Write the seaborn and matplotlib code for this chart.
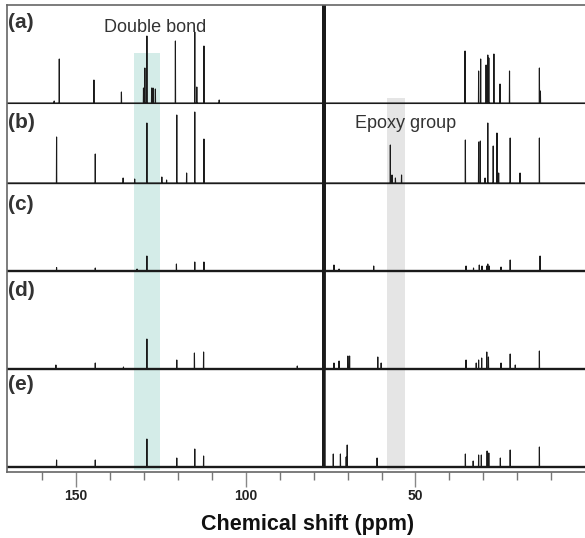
import numpy as np
import pandas as pd
import seaborn as sns
import matplotlib
matplotlib.use("Agg")
import matplotlib.pyplot as plt
from matplotlib.ticker import FixedLocator

# peak positions (ppm) and heights (arbitrary units)
a_ppm = [156.4, 154.9, 144.7, 136.6, 130.1, 129.7, 129.1, 127.7, 127.3, 126.6, 120.7, 115.0, 114.4,
         112.3, 107.8, 77.3, 77.0, 76.7, 35.4, 31.4, 30.8, 29.2, 28.7, 28.4, 26.9, 25.1, 22.3, 13.5, 13.2]
a_int = [2, 44, 23, 11, 15, 35, 67, 15, 15, 14, 62, 71, 16,
         57, 3, 88, 105, 88, 52, 32, 44, 38, 48, 45, 49, 19, 32, 35, 12]

b_ppm = [155.7, 144.3, 136.1, 132.7, 129.1, 124.7, 123.3, 120.3, 117.4, 115.0, 112.3, 77.3, 77.0, 76.7,
         57.4, 56.9, 55.9, 54.1, 35.3, 31.4, 30.9, 29.5, 28.7, 27.1, 26.0, 25.5, 22.1, 19.2, 13.5]
b_int = [46, 29, 5, 4, 60, 6, 3, 68, 10, 71, 44, 470, 480, 470,
         38, 8, 5, 8, 43, 41, 42, 5, 60, 37, 50, 10, 45, 10, 45]

c_ppm = [155.7, 144.3, 132.0, 129.1, 120.4, 115.0, 112.3, 77.3, 77.0, 76.7, 74.0, 72.5, 62.3,
         35.1, 32.9, 31.2, 30.4, 29.0, 28.7, 28.3, 24.8, 22.1, 13.3]
c_int = [3.5, 3, 2, 15, 7, 9, 9, 470, 480, 470, 6, 2, 5,
         5, 3, 6, 5, 5, 7, 5, 4, 11, 15]

d_ppm = [155.9, 144.3, 136.0, 129.1, 120.3, 115.1, 112.4, 84.8, 77.3, 77.0, 76.7, 74.0, 72.5, 69.9, 69.4,
         61.1, 60.1, 35.1, 32.1, 31.4, 30.5, 29.0, 28.5, 24.8, 22.1, 20.6, 13.5]
d_int = [4, 6, 2, 30, 9, 16, 17, 3, 470, 480, 470, 6, 8, 13, 13,
         12, 6, 9, 6, 9, 11, 17, 12, 6, 15, 4, 18]

e_ppm = [155.7, 144.3, 129.1, 120.3, 115.0, 112.4, 77.3, 77.0, 76.7, 74.2, 72.1, 70.4, 70.1,
         61.3, 35.3, 33.0, 31.4, 30.6, 28.9, 28.4, 25.0, 22.1, 13.5]
e_int = [7, 7, 28, 9, 18, 11, 470, 480, 470, 13, 13, 10, 22,
         9, 13, 6, 12, 12, 16, 14, 9, 17, 20]

labels = ["(a)", "(b)", "(c)", "(d)", "(e)"]
peaks = [(a_ppm, a_int), (b_ppm, b_int), (c_ppm, c_int), (d_ppm, d_int), (e_ppm, e_int)]
offsets = [369, 289, 201, 103, 5]
label_y = [450, 349, 267, 181, 87]
base_lw = [0.8, 1.0, 1.7, 1.7, 1.7]

x_left, x_right = 170.3, -7.0
half = 0.05

sns.set_style("white")
plt.rcParams["font.family"] = ["Liberation Sans", "DejaVu Sans"]

fig = plt.figure(figsize=(5.85, 5.38), dpi=100)
ax = fig.add_axes([7 / 585, 66 / 538, 602 / 585, 467 / 538])

# highlight bands
ax.axvspan(125.3, 132.9, ymin=2 / 467, ymax=419 / 467, color="#d4ece8", lw=0, zorder=0)
ax.axvspan(53.0, 58.5, ymin=2 / 467, ymax=374 / 467, color="#e5e5e5", lw=0, zorder=0)

frames = []
for lab, (ppm, inten), off in zip(labels, peaks, offsets):
    order = np.argsort(ppm)[::-1]
    xs, ys = [x_left], [0.0]
    for i in order:
        p, h = ppm[i], inten[i]
        xs += [p + half, p, p - half]
        ys += [0.0, h, 0.0]
    xs.append(x_right)
    ys.append(0.0)
    frames.append(pd.DataFrame({"ppm": xs, "y": np.array(ys) + off, "trace": lab}))
df = pd.concat(frames, ignore_index=True)

for lab, off, blw in zip(labels, offsets, base_lw):
    sub = df[df["trace"] == lab]
    sns.lineplot(data=sub, x="ppm", y="y", sort=False, estimator=None,
                 color="#1a1a1a", lw=0.8, ax=ax, zorder=2)
    ax.plot([x_left, x_right], [off, off], color="#1a1a1a", lw=blw, zorder=2)

for lab, yy in zip(labels, label_y):
    ax.text(169.9, yy, lab, ha="left", va="center", fontsize=15, fontweight="bold", color="#333333")

ax.text(126.8, 445, "Double bond", ha="center", va="center", fontsize=13, color="#333333")
ax.text(53.0, 348, "Epoxy group", ha="center", va="center", fontsize=13, color="#333333")

ax.set_xlim(x_left, x_right)
ax.set_ylim(0, 467)
ax.set_yticks([])
ax.set_ylabel("")
ax.xaxis.set_major_locator(FixedLocator([150, 100, 50]))
ax.xaxis.set_minor_locator(FixedLocator([160, 140, 130, 120, 110, 90, 80, 70, 60, 40, 30, 20, 10]))
ax.tick_params(axis="x", which="major", direction="out", length=11, width=1, color="#888888",
               labelsize=10, labelcolor="#222222", pad=1, bottom=True)
ax.tick_params(axis="x", which="minor", direction="out", length=6, width=1, color="#777777", bottom=True)
for t in ax.get_xticklabels():
    t.set_fontweight("bold")

for side in ["left", "bottom", "top"]:
    ax.spines[side].set_color("#666666")
    ax.spines[side].set_linewidth(1.2)
ax.spines["right"].set_visible(False)

ax.set_xlabel("Chemical shift (ppm)", fontsize=15.5, fontweight="bold", color="#111111")
ax.xaxis.set_label_coords(0.5, -0.09)

fig.savefig("out.png", dpi=100)
